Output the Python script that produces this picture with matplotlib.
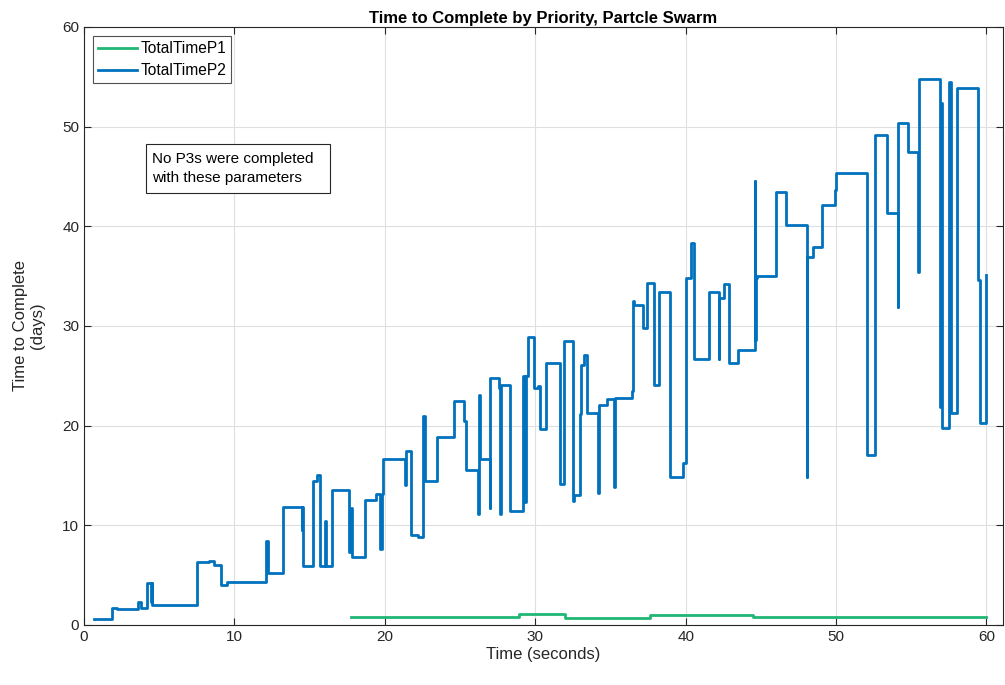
import matplotlib
matplotlib.use('Agg')
import matplotlib.pyplot as plt
from matplotlib.patches import Rectangle

# TotalTimeP2 step data (time when value changes, new value)
p2_t = [0.66, 1.88, 2.2, 3.61, 3.76, 4.16, 4.45, 4.5, 4.55, 7.53, 8.31, 8.64,
        9.08, 9.52, 12.07, 12.25, 13.22, 14.46, 14.52, 14.58, 15.24, 15.46,
        15.68, 16.01, 16.07, 16.52, 17.63, 17.72, 17.8, 18.67, 19.4, 19.67,
        19.78, 19.85, 21.33, 21.38, 21.77, 22.2, 22.55, 22.7, 23.48, 24.58,
        25.25, 25.38, 26.2, 26.28, 26.35, 26.98, 27.02, 27.6, 27.65, 27.75,
        28.3, 29.19, 29.3, 29.4, 29.52, 29.9, 30.2, 30.3, 30.74, 31.67, 31.91,
        32.5, 32.55, 32.96, 33.07, 33.22, 33.44, 34.17, 34.27, 34.8, 35.24,
        35.33, 36.46, 36.5, 36.6, 37.17, 37.43, 37.9, 38.2, 38.98, 39.82,
        40.0, 40.37, 40.55, 41.55, 42.21, 42.25, 42.55, 42.88, 43.48, 44.58,
        44.62, 44.68, 44.75, 45.98, 46.69, 48.06, 48.1, 48.5, 49.08, 49.9,
        50.0, 52.07, 52.56, 53.38, 54.1, 54.15, 54.8, 55.44, 55.5, 56.88,
        56.97, 57.05, 57.54, 57.65, 58.05, 59.47, 59.6, 59.98]
p2_v = [0.63, 1.7, 1.6, 2.27, 1.75, 4.25, 2.3, 4.2, 1.98, 6.32, 6.42, 6.02,
        3.98, 4.35, 8.43, 5.25, 11.84, 9.5, 11.8, 5.9, 14.4, 15.05,
        5.95, 10.43, 5.95, 13.54, 7.35, 11.7, 6.85, 12.5, 13.1, 7.59,
        13.1, 16.62, 14.04, 17.5, 9.03, 8.8, 20.96, 14.44, 18.9, 22.47,
        20.43, 15.55, 11.18, 23.07, 16.62, 11.7, 24.74, 23.74, 11.13, 24.07,
        11.47, 24.97, 12.3, 24.97, 28.85, 23.74, 24.0, 19.63, 26.3, 14.1, 28.52,
        12.47, 13.0, 21.13, 26.1, 27.08, 21.23, 13.27, 22.07, 22.67, 13.8,
        22.73, 23.5, 32.5, 32.1, 29.76, 34.34, 24.07, 33.43, 14.88, 16.22,
        34.8, 38.28, 26.65, 33.43, 26.65, 32.76, 34.17, 26.25, 27.58, 44.57,
        28.58, 34.77, 35.0, 43.4, 40.12, 14.88, 36.9, 37.9, 42.13, 43.63,
        45.4, 17.05, 49.15, 41.3, 31.93, 50.32, 47.43, 35.44, 54.83, 21.9,
        52.4, 19.73, 54.5, 21.23, 53.83, 34.6, 20.23, 35.1]

# TotalTimeP1 step data
p1_t = [17.74, 28.9, 31.96, 37.6, 44.45, 52.3, 60.0]
p1_v = [0.85, 1.1, 0.75, 1.05, 0.85, 0.82, 0.82]

note = 'No P3s were completed\nwith these parameters'

plt.rcParams['font.family'] = ['Liberation Sans', 'DejaVu Sans']
fig = plt.figure(figsize=(10.05, 6.85), dpi=100)
ax = fig.add_axes([0.0836, 0.0876, 0.9144, 0.873])

ax.step(p1_t, p1_v, where='post', color='#20b673', lw=2.0, label='TotalTimeP1')
ax.step(p2_t, p2_v, where='post', color='#0072bd', lw=2.0, label='TotalTimeP2')

ax.set_xlim(0, 61.1)
ax.set_ylim(0, 60)
ax.set_xticks(range(0, 61, 10))
ax.set_yticks(range(0, 61, 10))
ax.grid(True, color='#dfdfdf', lw=0.8)
ax.set_axisbelow(True)
ax.tick_params(direction='in', top=True, right=True, labelsize=11,
               colors='#262626', length=5, width=0.8)
for s in ax.spines.values():
    s.set_color('#262626')
    s.set_linewidth(0.8)

ax.set_title('Time to Complete by Priority, Partcle Swarm', fontsize=12,
             fontweight='bold', pad=3)
ax.set_xlabel('Time (seconds)', fontsize=12, color='#262626', labelpad=2)
ax.set_ylabel('Time to Complete\n(days)', fontsize=12, color='#262626', labelpad=12)

leg = ax.legend(loc='upper left', fontsize=11.2, frameon=True, fancybox=False,
                edgecolor='#262626', borderaxespad=0.6, handlelength=2.5,
                handletextpad=0.25, labelspacing=0.45, borderpad=0.3)
leg.get_frame().set_linewidth(0.8)

# annotation box
ax.add_patch(Rectangle((4.14, 43.33), 12.21, 4.92, fc='white', ec='#262626',
                       lw=0.8, zorder=4))
ax.text(4.54, 45.8, note, fontsize=11, va='center', ha='left',
        linespacing=1.5, zorder=5)

fig.savefig('out.png', dpi=100)
